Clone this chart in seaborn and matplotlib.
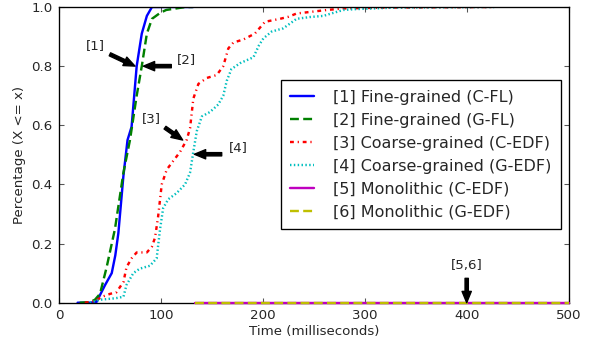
import numpy as np
import pandas as pd
import matplotlib
matplotlib.use('Agg')
import matplotlib.pyplot as plt
import seaborn as sns

# time (ms) and cumulative fraction for each series
fine_c_t = [18, 30, 36.7, 40, 45, 51.5, 55, 58, 63, 67, 71, 76, 81, 86, 91, 131.6]
fine_c_y = [0, 0, 0.003, 0.026, 0.06, 0.10, 0.16, 0.235, 0.43, 0.55, 0.595, 0.80, 0.91, 0.97, 1.0, 1.0]

fine_g_t = [20, 30, 35, 40, 46.5, 54.7, 63, 69.4, 76, 81, 86, 91, 99, 105, 124, 131]
fine_g_y = [0, 0.002, 0.01, 0.03, 0.12, 0.25, 0.44, 0.55, 0.70, 0.80, 0.91, 0.96, 0.98, 0.99, 1.0, 1.0]

coarse_c_t = [25, 35, 42, 50, 56, 63, 66, 71, 76, 86, 91, 94, 97, 100.6, 105.5, 112, 118.6, 125,
              128.4, 131.6, 136.6, 144.8, 154.6, 161, 166, 171, 180.7, 192, 202, 216.7, 225, 233,
              248, 263, 279, 320, 428]
coarse_c_y = [0, 0.005, 0.02, 0.03, 0.035, 0.07, 0.12, 0.15, 0.17, 0.17, 0.19, 0.22, 0.29, 0.40, 0.45,
              0.48, 0.51, 0.55, 0.59, 0.69, 0.74, 0.76, 0.77, 0.80, 0.86, 0.88, 0.89, 0.91, 0.95, 0.96,
              0.967, 0.978, 0.984, 0.99, 0.995, 0.998, 1.0]

coarse_g_t = [30, 40, 55, 63, 66, 72.7, 79, 89, 95.6, 99, 102, 107, 115, 123.5, 128.4, 131.6, 135, 140,
              148, 156, 161, 164.4, 169, 177.5, 190.6, 196, 200.4, 208.6, 220, 233, 246, 259.4, 269,
              279, 292, 330, 428]
coarse_g_y = [0, 0.01, 0.015, 0.02, 0.06, 0.10, 0.115, 0.125, 0.15, 0.25, 0.32, 0.35, 0.37, 0.40, 0.44,
              0.51, 0.58, 0.63, 0.645, 0.67, 0.70, 0.75, 0.79, 0.81, 0.83, 0.87, 0.894, 0.917, 0.928,
              0.96, 0.966, 0.97, 0.98, 0.99, 0.993, 0.998, 1.0]

mono_c_t = [133, 500]
mono_c_y = [0, 0]
mono_g_t = [133, 500]
mono_g_y = [0, 0]

labels = ['[1] Fine-grained (C-FL)', '[2] Fine-grained (G-FL)',
          '[3] Coarse-grained (C-EDF)', '[4] Coarse-grained (G-EDF)',
          '[5] Monolithic (C-EDF)', '[6] Monolithic (G-EDF)']

series = [
    (fine_c_t, fine_c_y, 'b', '-'),
    (fine_g_t, fine_g_y, 'g', (0, (3.7, 1.8))),
    (coarse_c_t, coarse_c_y, 'r', (0, (1.6, 1.6, 0.5, 1.6))),
    (coarse_g_t, coarse_g_y, 'c', (0, (0.6, 1.0))),
    (mono_c_t, mono_c_y, 'm', '-'),
    (mono_g_t, mono_g_y, 'y', (0, (3.7, 1.8))),
]

# annotations: label, text position, arrow tail, arrow head
notes = [
    ('[1]', (35, 0.871), (49.7, 0.84), (74.4, 0.80)),
    ('[2]', (124.7, 0.823), (110, 0.80), (82.5, 0.80)),
    ('[3]', (90.3, 0.624), (103.8, 0.592), (121.2, 0.550)),
    ('[4]', (175.3, 0.524), (159.5, 0.502), (132.6, 0.502)),
    ('[5,6]', (400, 0.125), (400, 0.0825), (400, 0.0)),
]

sns.set_style('ticks')
plt.rcParams['font.family'] = ['DejaVu Sans']

fig, ax = plt.subplots(figsize=(591 / 96, 343 / 96), dpi=96)
fig.subplots_adjust(left=0.1003, right=0.962, bottom=0.1175, top=0.9796)

for i, ((t, y, c, ls), lab) in enumerate(zip(series, labels)):
    df = pd.DataFrame({'t': t, 'y': y})
    sns.lineplot(data=df, x='t', y='y', color=c, linestyle=ls, linewidth=1.8,
                 estimator=None, sort=False, label=lab, ax=ax)
    if i >= 4:
        # monolithic lines sit on the x axis, draw them over the spine
        ax.lines[-1].set_zorder(3)
        ax.lines[-1].set_clip_on(False)

for txt, tpos, tail, head in notes:
    ax.text(tpos[0], tpos[1], txt, ha='center', va='center', fontsize=10)
    ax.annotate('', xy=head, xytext=tail,
                arrowprops=dict(facecolor='black', edgecolor='black', width=2.5,
                                headwidth=7, headlength=8.5, shrink=0))

ax.set_xlim(0, 500)
ax.set_ylim(0, 1.0)
ax.set_xticks([0, 100, 200, 300, 400, 500])
ax.set_yticks([0.0, 0.2, 0.4, 0.6, 0.8, 1.0])
ax.set_xlabel('Time (milliseconds)', fontsize=10, labelpad=2)
ax.set_ylabel('Percentage (X <= x)', fontsize=10, labelpad=4)
ax.tick_params(direction='in', top=True, right=True, length=4, width=0.8,
               labelsize=10, pad=5, color='#555555')
for s in ax.spines.values():
    s.set_color('black')
    s.set_linewidth(1.0)

leg = ax.legend(loc='center right', fontsize=12, fancybox=False, framealpha=1,
                edgecolor='black', handlelength=1.5, handletextpad=1.15,
                labelspacing=0.5, borderpad=0.6, borderaxespad=0.5)
leg.get_frame().set_linewidth(1.0)

fig.savefig('out.png', dpi=96)
